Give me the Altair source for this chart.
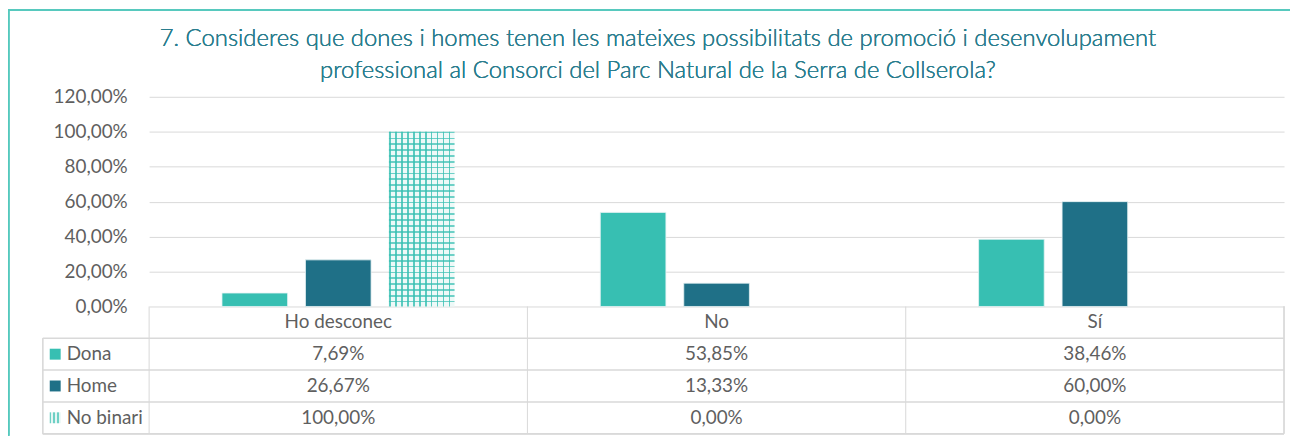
import altair as alt
import pandas as pd

# ---------------- data ----------------
categories = ["Ho desconec", "No", "Sí"]
series = ["Dona", "Home", "No binari"]
dona = [7.69, 53.85, 38.46]
home = [26.67, 13.33, 60.00]
no_binari = [100.00, 0.00, 0.00]
y_ticks = [0, 20, 40, 60, 80, 100, 120]
title_line1 = "7. Consideres que dones i homes tenen les mateixes possibilitats de promoció i desenvolupament"
title_line2 = "professional al Consorci del Parc Natural de la Serra de Collserola?"

rows = []
for s, vals in zip(series, [dona, home, no_binari]):
    for c, v in zip(categories, vals):
        rows.append({"categoria": c, "serie": s, "valor": v})
df = pd.DataFrame(rows)
cat_df = pd.DataFrame({"categoria": categories})
ser_df = pd.DataFrame({"serie": series})

# ---------------- style ----------------
DONA = "#37bfb2"
HOME = "#1f7087"
TITLE_C = "#2a7d8e"
TXT = "#5f5f5f"
GRID = "#d9d9d9"
BORDER = "#55c9bd"
FONT = "Lato"

W, H = 1142, 211
PL, PT, PR, PB = 142, 88, 6, 130
T_TOP, T_BOT = 211, 339  # table top / bottom (plot coords)
LEFT_COL = -107

def stripes(n, color, frac, bg, vertical):
    stops = []
    for i in range(n):
        a, b, c = i / n, (i + frac) / n, (i + 1) / n
        stops += [
            alt.GradientStop(offset=a, color=color),
            alt.GradientStop(offset=b, color=color),
            alt.GradientStop(offset=b, color=bg),
            alt.GradientStop(offset=c, color=bg),
        ]
    if vertical:
        return alt.Gradient(gradient="linear", stops=stops, x1=0, x2=1, y1=0, y2=0)
    return alt.Gradient(gradient="linear", stops=stops, x1=0, x2=0, y1=0, y2=1)

x_scale = alt.Scale(domain=categories, paddingInner=0, paddingOuter=0)
xo_scale = alt.Scale(domain=series, paddingInner=0.214, paddingOuter=0.873)
color_scale = alt.Scale(domain=["Dona", "Home"], range=[DONA, HOME])
table_y = alt.Scale(domain=["cat"] + series, range=[T_TOP, T_BOT], paddingInner=0, paddingOuter=0)
val_scale = alt.Scale(domain=[0, 120], nice=False)

X = alt.X("categoria:N", scale=x_scale, axis=None)
XO = alt.XOffset("serie:N", scale=xo_scale)
Yq = alt.Y(
    "valor:Q",
    scale=val_scale,
    axis=alt.Axis(
        values=y_ticks,
        labelExpr="replace(format(datum.value, '.2f'), '.', ',') + '%'",
        grid=True, gridColor=GRID, gridWidth=1,
        domain=False, ticks=False, labelPadding=22,
        labelFont=FONT, labelFontSize=19, labelColor=TXT, title=None,
    ),
)
Yq2 = alt.Y("valor:Q", scale=val_scale, axis=None)

base = alt.Chart(df)

bars = base.transform_filter("datum.serie != 'No binari'").mark_bar(
    stroke="#e6f3f4", strokeWidth=0.8
).encode(
    x=X, xOffset=XO, y=Yq,
    color=alt.Color("serie:N", scale=color_scale, legend=None),
)

nb = base.transform_filter("datum.serie == 'No binari' && datum.valor > 0")
pat0 = nb.mark_bar(fill="#eef9f8").encode(x=X, xOffset=XO, y=Yq2)
pat1 = nb.mark_bar(fill=stripes(11, "rgba(55,191,178,0.8)", 0.3, "rgba(255,255,255,0)", True)).encode(
    x=X, xOffset=XO, y=Yq2)
pat2 = nb.mark_bar(fill=stripes(30, "rgba(55,191,178,0.7)", 0.3, "rgba(255,255,255,0)", False)).encode(
    x=X, xOffset=XO, y=Yq2)

# ---------------- table ----------------
TY = lambda f: alt.Y(f, scale=table_y, axis=None)

v_rules = alt.Chart(cat_df).mark_rule(color=GRID, strokeWidth=1).encode(
    x=alt.X("categoria:N", scale=x_scale, axis=None, bandPosition=0),
    y=alt.value(T_TOP), y2=alt.value(T_BOT),
)
right_rule = alt.Chart(cat_df).mark_rule(color=GRID, strokeWidth=1).encode(
    x=alt.value(W), y=alt.value(T_TOP), y2=alt.value(T_BOT))
left_rule = alt.Chart(cat_df).mark_rule(color=GRID, strokeWidth=1).encode(
    x=alt.value(LEFT_COL), y=alt.value(T_TOP + 32), y2=alt.value(T_BOT))

h_rules = alt.Chart(ser_df).mark_rule(color=GRID, strokeWidth=1.5).encode(
    y=alt.Y("serie:N", scale=table_y, axis=None, bandPosition=0),
    x=alt.value(LEFT_COL), x2=alt.value(W),
)
bottom_rule = alt.Chart(ser_df).mark_rule(color=GRID, strokeWidth=1.5).encode(
    y=alt.value(T_BOT), x=alt.value(LEFT_COL), x2=alt.value(W))

header = alt.Chart(cat_df).transform_calculate(row="'cat'").mark_text(
    font=FONT, fontSize=19, color=TXT, baseline="middle").encode(
    x=X, y=TY("row:N"), text="categoria:N")

values = base.transform_calculate(
    txt="replace(format(datum.valor, '.2f'), '.', ',') + '%'"
).mark_text(font=FONT, fontSize=19, color=TXT, baseline="middle").encode(
    x=X, y=TY("serie:N"), text="txt:N")

sw = alt.Chart(ser_df).transform_filter("datum.serie != 'No binari'").mark_square(
    size=121, opacity=1).encode(
    x=alt.value(-94.5), y=TY("serie:N"),
    color=alt.Color("serie:N", scale=color_scale, legend=None))
sw_nb = alt.Chart(ser_df).transform_filter("datum.serie == 'No binari'").mark_square(
    size=121, opacity=1, fill=stripes(3, "#6fd0c5", 0.45, "#e6f6f4", True)).encode(
    x=alt.value(-94.5), y=TY("serie:N"))
sw_lab = alt.Chart(ser_df).mark_text(
    font=FONT, fontSize=19, color=TXT, align="left", baseline="middle").encode(
    x=alt.value(-83), y=TY("serie:N"), text="serie:N")

# ---------------- title & outer border ----------------
t1 = alt.Chart(cat_df).mark_text(
    font=FONT, fontSize=24, fontWeight=300, color=TITLE_C, align="center", baseline="middle"
).encode(x=alt.value(512), y=alt.value(-58), text=alt.value(title_line1))
t2 = alt.Chart(cat_df).mark_text(
    font=FONT, fontSize=24, fontWeight=300, color=TITLE_C, align="center", baseline="middle"
).encode(x=alt.value(512), y=alt.value(-26), text=alt.value(title_line2))

top_border = alt.Chart(cat_df).mark_rule(color=BORDER, strokeWidth=1.5).encode(
    x=alt.value(-PL), x2=alt.value(W + PR), y=alt.value(-PT + 0.75))
left_border = alt.Chart(cat_df).mark_rule(color=BORDER, strokeWidth=1.5).encode(
    x=alt.value(-PL + 0.75), y=alt.value(-PT), y2=alt.value(H + PB))

chart = alt.layer(
    bars, pat0, pat1, pat2,
    v_rules, right_rule, left_rule, h_rules, bottom_rule,
    header, values, sw, sw_nb, sw_lab,
    t1, t2, top_border, left_border,
).resolve_scale(
    y="independent", color="shared"
).properties(
    width=W, height=H,
    autosize=alt.AutoSizeParams(type="none"),
    padding={"left": PL, "top": PT, "right": PR, "bottom": PB},
    background="white",
).configure_view(strokeWidth=0)

chart.save("out.html", embed_options={"renderer": "svg", "actions": False})
